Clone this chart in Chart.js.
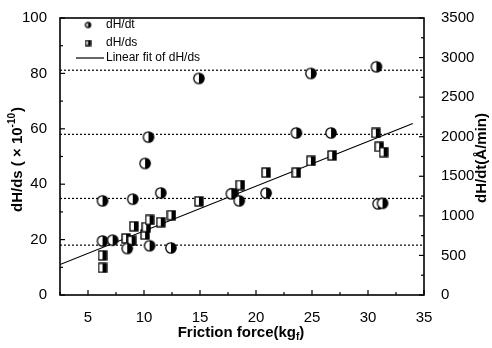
<!DOCTYPE html>
<html><head><meta charset="utf-8">
<script src="https://cdn.jsdelivr.net/npm/chart.js@4"></script>
<style>html,body{margin:0;padding:0;background:#fff}#wrap{width:492px;height:348px}</style>
</head><body><div id="wrap"><canvas id="c" width="492" height="348"></canvas></div>
<script>
// ---- data ----
const dtForce = [6.3, 9.0, 11.5, 6.3, 7.2, 8.5, 10.5, 12.4, 10.4, 10.1, 14.9, 24.9, 30.75, 23.6, 26.7, 30.9, 31.3, 17.8, 18.5, 20.9];
const dtRate  = [1190, 1211, 1290, 683, 693, 588, 623, 595, 1995, 1663, 2737, 2800, 2884, 2048, 2048, 1152, 1159, 1278, 1190, 1288];
const dsForce = [6.3, 6.3, 9.1, 8.4, 8.9, 10.1, 10.2, 10.5, 11.5, 12.45, 14.9, 18.0, 18.6, 20.9, 23.6, 24.9, 26.8, 30.7, 31.0, 31.4];
const dsValue = [14.3, 9.8, 24.8, 20.4, 19.6, 21.8, 24.5, 27.1, 26.3, 28.8, 33.8, 36.5, 39.7, 44.2, 44.2, 48.4, 50.4, 58.5, 53.5, 51.6];
const fitX = [2.5, 34.0];
const fitY = [11.0, 61.9];
const refLevels = [2840, 2030, 1220, 630];
const xTicks = [5, 10, 15, 20, 25, 30, 35];
const xMinorTicks = [2.5, 7.5, 12.5, 17.5, 22.5, 27.5, 32.5];
const yTicks = [0, 20, 40, 60, 80, 100];
const yMinorTicks = [10, 30, 50, 70, 90];
const y2Ticks = [0, 500, 1000, 1500, 2000, 2500, 3000, 3500];
const y2MinorTicks = [250, 750, 1250, 1750, 2250, 2750, 3250];
const legendLabels = ['dH/dt', 'dH/ds', 'Linear fit of dH/ds'];

// ---- marker images (half-filled) ----
function halfCircle(r) {
  const s = Math.ceil(2 * r + 3);
  const c = document.createElement('canvas'); c.width = c.height = s;
  const g = c.getContext('2d'); const m = s / 2;
  g.beginPath(); g.arc(m, m, r, 0, 2 * Math.PI); g.fillStyle = '#fff'; g.fill();
  g.beginPath(); g.arc(m, m, r, -Math.PI / 2, Math.PI / 2); g.closePath(); g.fillStyle = '#000'; g.fill();
  g.beginPath(); g.arc(m, m, r, 0, 2 * Math.PI); g.lineWidth = 1.3; g.strokeStyle = '#000'; g.stroke();
  return c;
}
function halfSquare(w, h) {
  const c = document.createElement('canvas'); c.width = w + 2; c.height = h + 2;
  const g = c.getContext('2d');
  g.fillStyle = '#fff'; g.fillRect(1, 1, w, h);
  g.fillStyle = '#000'; g.fillRect(1 + w / 2, 1, w / 2, h);
  g.lineWidth = 1.3; g.strokeStyle = '#000'; g.strokeRect(1, 1, w, h);
  return c;
}
const circImg = halfCircle(5.2);
const sqImg = halfSquare(8, 9);
const circSmall = halfCircle(2.6);
const sqSmall = halfSquare(5, 5);

const FONT = "'Liberation Sans', Arial, sans-serif";

const datasets = [
  { label: legendLabels[0], data: dtForce.map((x, i) => ({ x, y: dtRate[i] })), yAxisID: 'y2',
    pointStyle: circImg, pointRadius: 5, showLine: false },
  { label: legendLabels[1], data: dsForce.map((x, i) => ({ x, y: dsValue[i] })), yAxisID: 'y',
    pointStyle: sqImg, pointRadius: 5, showLine: false },
  { label: legendLabels[2], data: fitX.map((x, i) => ({ x, y: fitY[i] })), yAxisID: 'y',
    showLine: true, borderColor: '#000', borderWidth: 1.2, pointRadius: 0 }
];
refLevels.forEach(v => datasets.push({
  label: 'ref', data: [{ x: 2.5, y: v }, { x: 35, y: v }], yAxisID: 'y2', showLine: true,
  borderColor: '#000', borderWidth: 1.2, borderDash: [2, 2], pointRadius: 0
}));

function setTicks(arr) { return s => { s.ticks = arr.map(v => ({ value: v })); }; }
const plain = v => String(v);

const decor = {
  id: 'decor',
  afterDraw(chart) {
    const ctx = chart.ctx, a = chart.chartArea;
    const sx = chart.scales.x, sy = chart.scales.y, sy2 = chart.scales.y2;
    ctx.save();
    ctx.strokeStyle = '#000'; ctx.lineWidth = 1.6;
    ctx.strokeRect(a.left, a.top, a.right - a.left, a.bottom - a.top);
    ctx.lineWidth = 1.2;
    const tick = (x1, y1, x2, y2) => { ctx.beginPath(); ctx.moveTo(x1, y1); ctx.lineTo(x2, y2); ctx.stroke(); };
    xTicks.forEach(v => { const p = sx.getPixelForValue(v); tick(p, a.bottom, p, a.bottom - 5); });
    xMinorTicks.forEach(v => { const p = sx.getPixelForValue(v); tick(p, a.bottom, p, a.bottom - 3); });
    yTicks.forEach(v => { const p = sy.getPixelForValue(v); tick(a.left, p, a.left + 5, p); });
    yMinorTicks.forEach(v => { const p = sy.getPixelForValue(v); tick(a.left, p, a.left + 3, p); });
    y2Ticks.forEach(v => { const p = sy2.getPixelForValue(v); tick(a.right, p, a.right - 5, p); });
    y2MinorTicks.forEach(v => { const p = sy2.getPixelForValue(v); tick(a.right, p, a.right - 3, p); });

    ctx.fillStyle = '#000';
    const big = 'bold 15px ' + FONT, small = 'bold 10px ' + FONT;
    ctx.textBaseline = 'alphabetic'; ctx.textAlign = 'left';
    // x title with subscript
    ctx.font = big; const w1 = ctx.measureText('Friction force(kg').width;
    ctx.font = small; const w2 = ctx.measureText('f').width;
    ctx.font = big; const w3 = ctx.measureText(')').width;
    let x0 = 241 - (w1 + w2 + w3) / 2, yb = 337;
    ctx.fillText('Friction force(kg', x0, yb);
    ctx.font = small; ctx.fillText('f', x0 + w1, yb + 3);
    ctx.font = big; ctx.fillText(')', x0 + w1 + w2, yb);

    // left title with superscript
    ctx.save(); ctx.translate(22, 160); ctx.rotate(-Math.PI / 2);
    ctx.font = big; const l1 = ctx.measureText('dH/ds ( \u00d7 10').width;
    ctx.font = small; const l2 = ctx.measureText('-10').width;
    ctx.font = big; const l3 = ctx.measureText(')').width;
    x0 = -(l1 + l2 + l3) / 2;
    ctx.fillText('dH/ds ( \u00d7 10', x0, 0);
    ctx.font = small; ctx.fillText('-10', x0 + l1, -7);
    ctx.font = big; ctx.fillText(')', x0 + l1 + l2 + 1, 0);
    ctx.restore();

    // right title
    ctx.save(); ctx.translate(486, 158); ctx.rotate(-Math.PI / 2);
    ctx.font = big; ctx.textAlign = 'center';
    ctx.fillText('dH/dt(\u00c5/min)', 0, 0);
    ctx.restore();

    // legend
    ctx.font = '12px ' + FONT; ctx.textAlign = 'left'; ctx.textBaseline = 'middle';
    ctx.drawImage(circSmall, 88 - circSmall.width / 2, 25 - circSmall.height / 2);
    ctx.fillText(legendLabels[0], 106, 25);
    ctx.drawImage(sqSmall, 88 - sqSmall.width / 2, 43 - sqSmall.height / 2);
    ctx.fillText(legendLabels[1], 106, 43);
    ctx.lineWidth = 1.2; tick(76, 58, 104, 58);
    ctx.fillText(legendLabels[2], 106, 58);
    ctx.restore();
  }
};

new Chart(document.getElementById('c'), {
  type: 'scatter',
  data: { datasets },
  options: {
    responsive: false, animation: false,
    layout: { padding: { top: 16, left: 0, right: 0, bottom: 0 } },
    plugins: { legend: { display: false }, tooltip: { enabled: false } },
    scales: {
      x: { type: 'linear', position: 'bottom', min: 2.5, max: 35,
        grid: { display: false }, border: { display: false },
        afterBuildTicks: setTicks(xTicks), afterFit: s => { s.height = 53; },
        ticks: { color: '#000', font: { size: 15, family: FONT }, padding: 6, maxRotation: 0, callback: plain } },
      y: { type: 'linear', position: 'left', min: 0, max: 100,
        grid: { display: false }, border: { display: false },
        afterBuildTicks: setTicks(yTicks), afterFit: s => { s.width = 60; },
        ticks: { color: '#000', font: { size: 15, family: FONT }, padding: 5, callback: plain } },
      y2: { type: 'linear', position: 'right', min: 0, max: 3500,
        grid: { display: false }, border: { display: false },
        afterBuildTicks: setTicks(y2Ticks), afterFit: s => { s.width = 68; },
        ticks: { color: '#000', font: { size: 15, family: FONT }, padding: 9, callback: plain } }
    }
  },
  plugins: [decor]
});
</script>
</body></html>
